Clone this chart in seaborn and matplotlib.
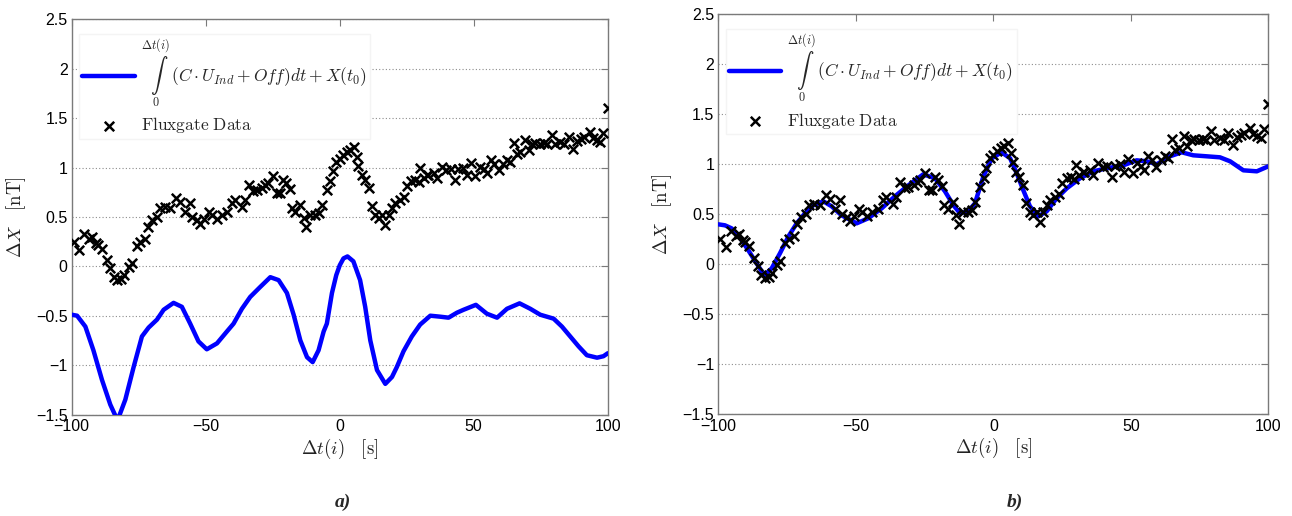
import numpy as np
import pandas as pd
import matplotlib
matplotlib.use("Agg")
import matplotlib.pyplot as plt
from matplotlib.ticker import FuncFormatter
import seaborn as sns

# ---- Fluxgate measurements (shared by both panels) ----
flux_t = [-99.3, -97.1, -95.3, -93.7, -92.5, -91.0, -90.2, -88.7, -86.9, -85.6,
          -84.4, -83.1, -81.6, -80.4, -78.8, -77.5, -75.7, -74.4, -72.6, -71.4,
          -70.1, -68.2, -67.0, -65.1, -63.2, -61.0, -59.5, -57.6, -55.8, -55.2,
          -53.3, -52.0, -50.5, -48.9, -47.7, -45.8, -44.0, -42.1, -40.2, -39.0,
          -36.5, -35.3, -34.0, -32.2, -30.9, -29.0, -27.8, -26.6, -24.9, -23.4,
          -22.4, -21.2, -20.0, -18.7, -17.8, -16.6, -14.7, -13.5, -12.5, -11.0,
          -9.1, -7.9, -6.7, -4.8, -3.5, -2.5, -1.3, 0.0, 1.2, 2.7,
          3.9, 5.4, 6.4, 7.0, 8.3, 9.5, 10.8, 12.0, 13.2, 14.5,
          15.7, 17.0, 18.2, 19.4, 20.7, 22.3, 23.8, 25.1, 26.6, 28.2,
          29.4, 30.0, 31.3, 32.6, 33.1, 35.0, 36.3, 38.1, 39.7, 41.5,
          43.1, 44.3, 45.9, 47.5, 48.9, 50.6, 52.2, 53.7, 54.9, 56.4,
          57.7, 59.3, 60.9, 62.4, 63.6, 64.9, 66.1, 67.4, 69.2, 70.5,
          71.7, 73.0, 74.6, 76.1, 77.3, 79.2, 80.4, 82.3, 83.8, 85.4,
          87.0, 88.5, 90.0, 91.2, 93.2, 94.5, 95.9, 97.2, 98.4, 100.0]
flux_x = [0.25, 0.17, 0.33, 0.28, 0.30, 0.24, 0.22, 0.18, 0.06, -0.02,
          -0.11, -0.14, -0.13, -0.09, -0.01, 0.03, 0.21, 0.25, 0.28, 0.40,
          0.47, 0.50, 0.59, 0.60, 0.59, 0.69, 0.65, 0.55, 0.64, 0.50,
          0.47, 0.43, 0.48, 0.55, 0.52, 0.48, 0.52, 0.55, 0.64, 0.67,
          0.60, 0.67, 0.82, 0.76, 0.77, 0.79, 0.82, 0.84, 0.91, 0.74,
          0.74, 0.87, 0.84, 0.78, 0.59, 0.55, 0.62, 0.49, 0.40, 0.52,
          0.52, 0.54, 0.62, 0.77, 0.86, 0.96, 1.06, 1.09, 1.13, 1.16,
          1.18, 1.21, 1.11, 1.02, 0.92, 0.87, 0.79, 0.61, 0.52, 0.49,
          0.52, 0.42, 0.52, 0.59, 0.64, 0.67, 0.70, 0.81, 0.86, 0.87,
          0.85, 0.99, 0.89, 0.92, 0.92, 0.94, 0.89, 1.01, 0.97, 0.98,
          0.87, 0.98, 1.00, 0.92, 1.05, 0.91, 1.01, 0.98, 0.94, 1.08,
          1.04, 0.97, 1.04, 1.08, 1.06, 1.25, 1.14, 1.16, 1.28, 1.18,
          1.24, 1.25, 1.24, 1.25, 1.24, 1.33, 1.24, 1.26, 1.24, 1.31,
          1.19, 1.27, 1.29, 1.31, 1.36, 1.30, 1.28, 1.26, 1.35, 1.60]

# ---- integrated induction-coil signal, panel a ----
int_a_t = [-100, -98, -94.9, -91.9, -88.7, -85.6, -82.9, -80.0, -76.9, -73.8,
           -71.3, -68.2, -65.7, -62.0, -58.9, -55.8, -52.7, -49.6, -45.8, -42.1,
           -39.6, -36.5, -33.4, -29.7, -25.9, -22.8, -19.7, -17.2, -14.7, -12.2,
           -10.1, -7.9, -6.0, -4.8, -2.9, -1.3, 0.0, 1.4, 2.9, 5.1,
           7.6, 9.5, 11.4, 13.9, 17.0, 19.5, 21.3, 23.8, 26.9, 30.0,
           33.8, 37.5, 40.6, 43.7, 46.2, 50.8, 54.9, 58.7, 62.4, 67.1,
           71.1, 74.8, 79.8, 82.9, 86.0, 89.1, 92.2, 96.0, 98.4, 100]
int_a_x = [-0.49, -0.50, -0.61, -0.85, -1.15, -1.40, -1.56, -1.35, -1.02, -0.71,
           -0.62, -0.54, -0.44, -0.37, -0.41, -0.58, -0.76, -0.84, -0.78, -0.66,
           -0.58, -0.43, -0.31, -0.21, -0.11, -0.14, -0.27, -0.49, -0.75, -0.92,
           -0.97, -0.85, -0.66, -0.58, -0.27, -0.09, 0.01, 0.08, 0.10, 0.05,
           -0.14, -0.41, -0.75, -1.05, -1.19, -1.12, -1.02, -0.86, -0.71, -0.59,
           -0.50, -0.51, -0.52, -0.47, -0.44, -0.39, -0.48, -0.52, -0.43, -0.375,
           -0.43, -0.49, -0.53, -0.61, -0.71, -0.81, -0.90, -0.925, -0.91, -0.88]

# ---- integrated induction-coil signal, panel b (calibrated) ----
int_b_t = [-100, -97.6, -95.2, -92.7, -89.1, -86.1, -83.3, -80.6, -77.6, -74.5,
           -71.5, -68.5, -65.5, -61.8, -58.8, -55.2, -49.7, -45.5, -40.6, -35.8,
           -30.9, -25.5, -21.2, -17.6, -14.5, -12.1, -9.1, -6.7, -3.6, -0.6,
           3.0, 6.1, 8.5, 10.9, 13.3, 16.4, 19.4, 23.0, 26.7, 31.5,
           36.4, 41.2, 47.3, 52.1, 55.8, 59.4, 64.2, 68.5, 72.7, 77.6,
           82.4, 86.1, 90.9, 95.8, 100]
int_b_x = [0.40, 0.39, 0.36, 0.29, 0.14, 0.01, -0.11, -0.04, 0.11, 0.28,
           0.41, 0.51, 0.59, 0.63, 0.58, 0.49, 0.41, 0.46, 0.56, 0.68,
           0.79, 0.90, 0.86, 0.73, 0.59, 0.51, 0.53, 0.61, 0.88, 1.06,
           1.12, 1.06, 0.91, 0.74, 0.58, 0.48, 0.53, 0.66, 0.76, 0.86,
           0.93, 0.96, 0.99, 1.04, 1.03, 1.00, 1.08, 1.12, 1.09, 1.08,
           1.07, 1.03, 0.94, 0.93, 0.98]

x_ticks = [-100, -50, 0, 50, 100]
y_ticks = [-1.5, -1, -0.5, 0, 0.5, 1, 1.5, 2, 2.5]

flux = pd.DataFrame({"t": flux_t, "x": flux_x})
curve_a = pd.DataFrame({"t": int_a_t, "x": int_a_x})
curve_b = pd.DataFrame({"t": int_b_t, "x": int_b_x})

sns.set_theme(style="white")
plt.rcParams["font.family"] = ["Liberation Sans", "DejaVu Sans"]
plt.rcParams["mathtext.fontset"] = "cm"
plt.rcParams["axes.unicode_minus"] = True
plt.rcParams["lines.solid_joinstyle"] = "round"
plt.rcParams["lines.solid_capstyle"] = "round"

fig = plt.figure(figsize=(12.92, 5.16), dpi=100)
ax_a = fig.add_axes([0.0555, 0.1967, 0.4149, 0.7659])
ax_b = fig.add_axes([0.5560, 0.1970, 0.4257, 0.7753])

int_label = (r"$\overset{\Delta t(i)}{\underset{0}{\int}}\,"
             r"(C\cdot U_{Ind}+Off)dt+X(t_0)$")
flux_label = r"$\mathrm{Fluxgate\ Data}$"
spine_col = "#7a7a7a"


def tick_fmt(v, pos):
    return ("%g" % v).replace("-", "\u2212")


for ax, curve in ((ax_a, curve_a), (ax_b, curve_b)):
    sns.lineplot(data=curve, x="t", y="x", ax=ax, color="#0000ff",
                 linewidth=3.2, label=int_label, zorder=3)
    sns.scatterplot(data=flux, x="t", y="x", ax=ax, marker="x", s=46,
                    color="black", linewidth=1.8, label=flux_label, zorder=4)
    ax.set_xlim(-100, 100)
    ax.set_ylim(-1.5, 2.5)
    ax.set_xticks(x_ticks)
    ax.set_yticks(y_ticks)
    ax.xaxis.set_major_formatter(FuncFormatter(tick_fmt))
    ax.yaxis.set_major_formatter(FuncFormatter(tick_fmt))
    ax.tick_params(direction="in", length=5, width=0.8, color=spine_col,
                   top=True, right=True, labelsize=11.5, pad=3,
                   labelcolor="black")
    ax.grid(False)
    ax.yaxis.grid(True, color="#8c8c8c", linestyle=(0, (1, 2)), linewidth=0.8)
    for sp in ax.spines.values():
        sp.set_color(spine_col)
        sp.set_linewidth(1.0)
    ax.set_xlabel(r"$\Delta t(i)\quad[\mathrm{s}]$", fontsize=13.5,
                  color="#222222", labelpad=2)
    ax.set_ylabel(r"$\Delta X\quad[\mathrm{nT}]$", fontsize=13.5,
                  color="#222222", labelpad=6)
    leg = ax.legend(loc="upper left", bbox_to_anchor=(0.0136, 0.962),
                    borderaxespad=0, fontsize=12.5, handlelength=3.0,
                    handletextpad=0.35, labelspacing=0.3, borderpad=0.2,
                    frameon=True, fancybox=False, framealpha=1,
                    edgecolor="#f4f4f4", facecolor="white")
    leg.set_zorder(5)

fig.text(0.2655, 0.027, "a)", ha="center", va="center", fontsize=14,
         fontfamily="Liberation Serif", fontweight="bold", fontstyle="italic")
fig.text(0.7856, 0.027, "b)", ha="center", va="center", fontsize=14,
         fontfamily="Liberation Serif", fontweight="bold", fontstyle="italic")

fig.savefig("out.png", dpi=100)
